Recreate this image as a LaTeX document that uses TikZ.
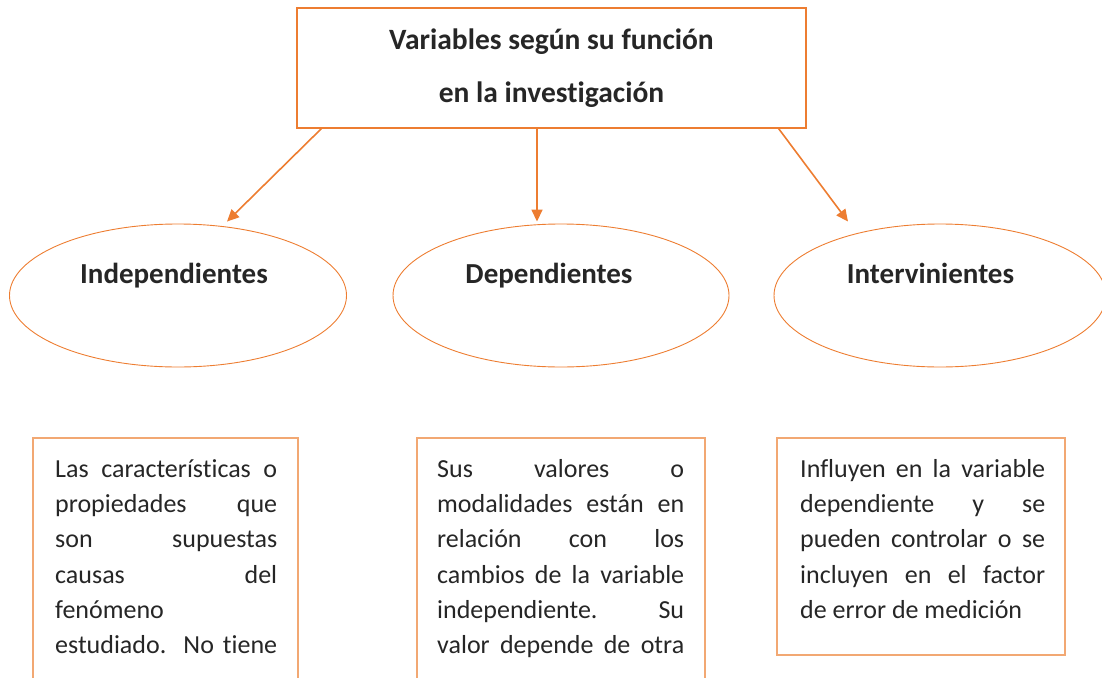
\documentclass[tikz,border=0pt]{standalone}
\usepackage{fontspec}
\setmainfont{Carlito}[Ligatures={NoCommon}]
\usetikzlibrary{shapes.geometric, arrows.meta}

\definecolor{naranja}{HTML}{ED7D31}
\definecolor{naranjaclaro}{HTML}{F2A873}
\definecolor{texto}{HTML}{262626}

\tikzset{
	titulo/.style={draw=naranja, line width=1.3pt, minimum width=509pt, minimum height=120pt, align=center, text=texto, font=\bfseries\fontsize{29.5}{53}\selectfont},
	elipse/.style={ellipse, draw=naranja, line width=0.9pt, minimum width=337pt, minimum height=143pt},
	etiqueta/.style={anchor=base, text=texto, font=\bfseries\fontsize{29}{30}\selectfont},
	caja/.style={draw=naranjaclaro, line width=1.6pt, minimum width=288pt},
	cuerpo/.style={anchor=north west, inner sep=0pt, align=justify, text=texto, font=\fontsize{26}{35.3}\selectfont},
	flecha/.style={draw=naranja, line width=1.6pt, -{Triangle[length=12pt, width=11pt]}}
}

\begin{document}
\begin{tikzpicture}[x=1pt, y=-1pt]
	\useasboundingbox (0,0) rectangle (1102,677);
	\clip (0,0) rectangle (1102,677);

	\node[titulo] (titulo) at (551.5,68) {Variables según su función\\ en la investigación};

	\node[elipse] (indep) at (178,295.5) {};
	\node[elipse, minimum width=336pt] (dep) at (561,295.5) {};
	\node[elipse, minimum width=332pt] (inter) at (940,295.5) {};
	\node[etiqueta] (indeptxt) at ([xshift=-4pt, yshift=12.5pt]indep.center) {Independientes};
	\node[etiqueta] (deptxt) at ([xshift=-12pt, yshift=12.5pt]dep.center) {Dependientes};
	\node[etiqueta] (intertxt) at ([xshift=-9.5pt, yshift=12.5pt]inter.center) {Intervinientes};

	\draw[flecha] ([xshift=25pt]titulo.south west) -- ([xshift=49pt, yshift=2pt]indep.north);
	\draw[flecha] ([xshift=-14.5pt]titulo.south) -- ([xshift=-24pt, yshift=2pt]dep.north);
	\draw[flecha] ([xshift=-28pt]titulo.south east) -- ([xshift=-92pt, yshift=2pt]inter.north);

	% cajas de descripcion
	\node[caja, minimum width=265pt, minimum height=270pt] (indepcaja) at (165.5,573) {};
	\node[caja, minimum height=270pt] (depcaja) at (561,573) {};
	\node[caja, minimum height=217pt] (intercaja) at (921,546.5) {};

	\node[cuerpo, text width=222pt] (indepdesc) at (55,452.3) {\tolerance=10000 \hyphenpenalty=10000
		\strut Las características o\linebreak propiedades que\linebreak son supuestas\linebreak causas del\linebreak fenómeno\\ \makebox[\linewidth][s]{estudiado. No tiene}};
	\node[cuerpo, text width=247pt] (depdesc) at (437,452.3) {\tolerance=10000 \hyphenpenalty=10000
		\strut Sus valores o\linebreak modalidades están en\linebreak relación con los\linebreak cambios de la variable\linebreak independiente. Su\linebreak \makebox[\linewidth][s]{valor depende de otra}};
	\node[cuerpo, text width=245pt] (interdesc) at (800,452.3) {\tolerance=10000 \hyphenpenalty=10000
		\strut Influyen en la variable\linebreak dependiente y se\linebreak pueden controlar o se\linebreak incluyen en el factor\linebreak de error de medición};
\end{tikzpicture}
\end{document}
